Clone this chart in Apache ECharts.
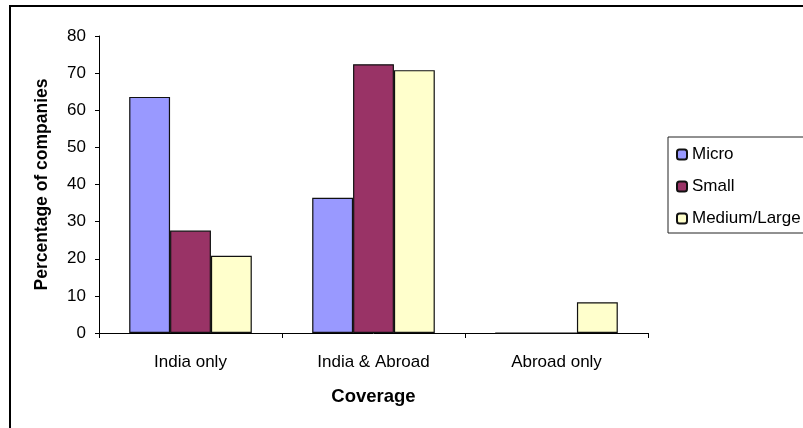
<!DOCTYPE html>
<html>
<head>
<meta charset="utf-8">
<style>
  html, body { margin: 0; padding: 0; background: #fff; }
  #chart { width: 803px; height: 428px; }
</style>
<script src="https://cdn.jsdelivr.net/npm/echarts@6/dist/echarts.min.js"></script>
</head>
<body>
<div id="chart"></div>
<script>
// Share of companies by market coverage, split by company size
const categories = ['India only', 'India & Abroad', 'Abroad only'];
const micro = [63.6, 36.4, 0];
const small = [27.6, 72.4, 0];
const mediumLarge = [20.8, 70.8, 8.3];
const seriesNames = ['Micro', 'Small', 'Medium/Large'];
const yMin = 0;
const yMax = 80;
const yStep = 10;

const FONT = '"Liberation Sans", Arial, sans-serif';
const colors = ['#9999ff', '#993366', '#ffffcc'];

const chart = echarts.init(document.getElementById('chart'), null, { renderer: 'canvas' });

function barSeries(name, data, color) {
  return {
    name: name,
    type: 'bar',
    data: data,
    barGap: '0%',
    barCategoryGap: '33%',
    itemStyle: { color: color, borderColor: '#111', borderWidth: 1.2 },
    emphasis: { disabled: true }
  };
}

chart.setOption({
  animation: false,
  backgroundColor: '#fff',
  textStyle: { fontFamily: FONT, color: '#000' },
  graphic: [{
    type: 'rect',
    shape: { x: 10, y: 6, width: 900, height: 500 },
    style: { fill: 'none', stroke: '#000', lineWidth: 2 },
    silent: true
  }],
  grid: { left: 99, right: 155, top: 36, bottom: 95, containLabel: false },
  legend: {
    orient: 'vertical',
    left: 668,
    top: 137,
    padding: [9, 40, 6, 8],
    itemGap: 15,
    itemWidth: 10,
    itemHeight: 10,
    borderColor: '#222',
    borderWidth: 1,
    backgroundColor: '#fff',
    data: seriesNames,
    textStyle: { fontFamily: FONT, fontSize: 17, color: '#000' }
  },
  xAxis: {
    type: 'category',
    data: categories,
    name: 'Coverage',
    nameLocation: 'middle',
    nameGap: 54,
    nameTextStyle: { fontFamily: FONT, fontSize: 18.5, fontWeight: 'bold', color: '#000' },
    axisLine: { lineStyle: { color: '#000', width: 1 } },
    axisTick: { show: true, length: 5, lineStyle: { color: '#000' } },
    axisLabel: { margin: 21, fontFamily: FONT, fontSize: 17, color: '#000' },
    splitLine: { show: false }
  },
  yAxis: {
    type: 'value',
    min: yMin,
    max: yMax,
    interval: yStep,
    name: 'Percentage of companies',
    nameLocation: 'middle',
    nameGap: 48,
    nameTextStyle: { fontFamily: FONT, fontSize: 17.5, fontWeight: 'bold', color: '#000' },
    axisLine: { show: true, lineStyle: { color: '#000', width: 1 } },
    axisTick: { show: true, length: 4, lineStyle: { color: '#000' } },
    axisLabel: { margin: 13, fontFamily: FONT, fontSize: 17, color: '#000' },
    splitLine: { show: false }
  },
  series: [
    barSeries(seriesNames[0], micro, colors[0]),
    barSeries(seriesNames[1], small, colors[1]),
    barSeries(seriesNames[2], mediumLarge, colors[2])
  ]
});
</script>
</body>
</html>
